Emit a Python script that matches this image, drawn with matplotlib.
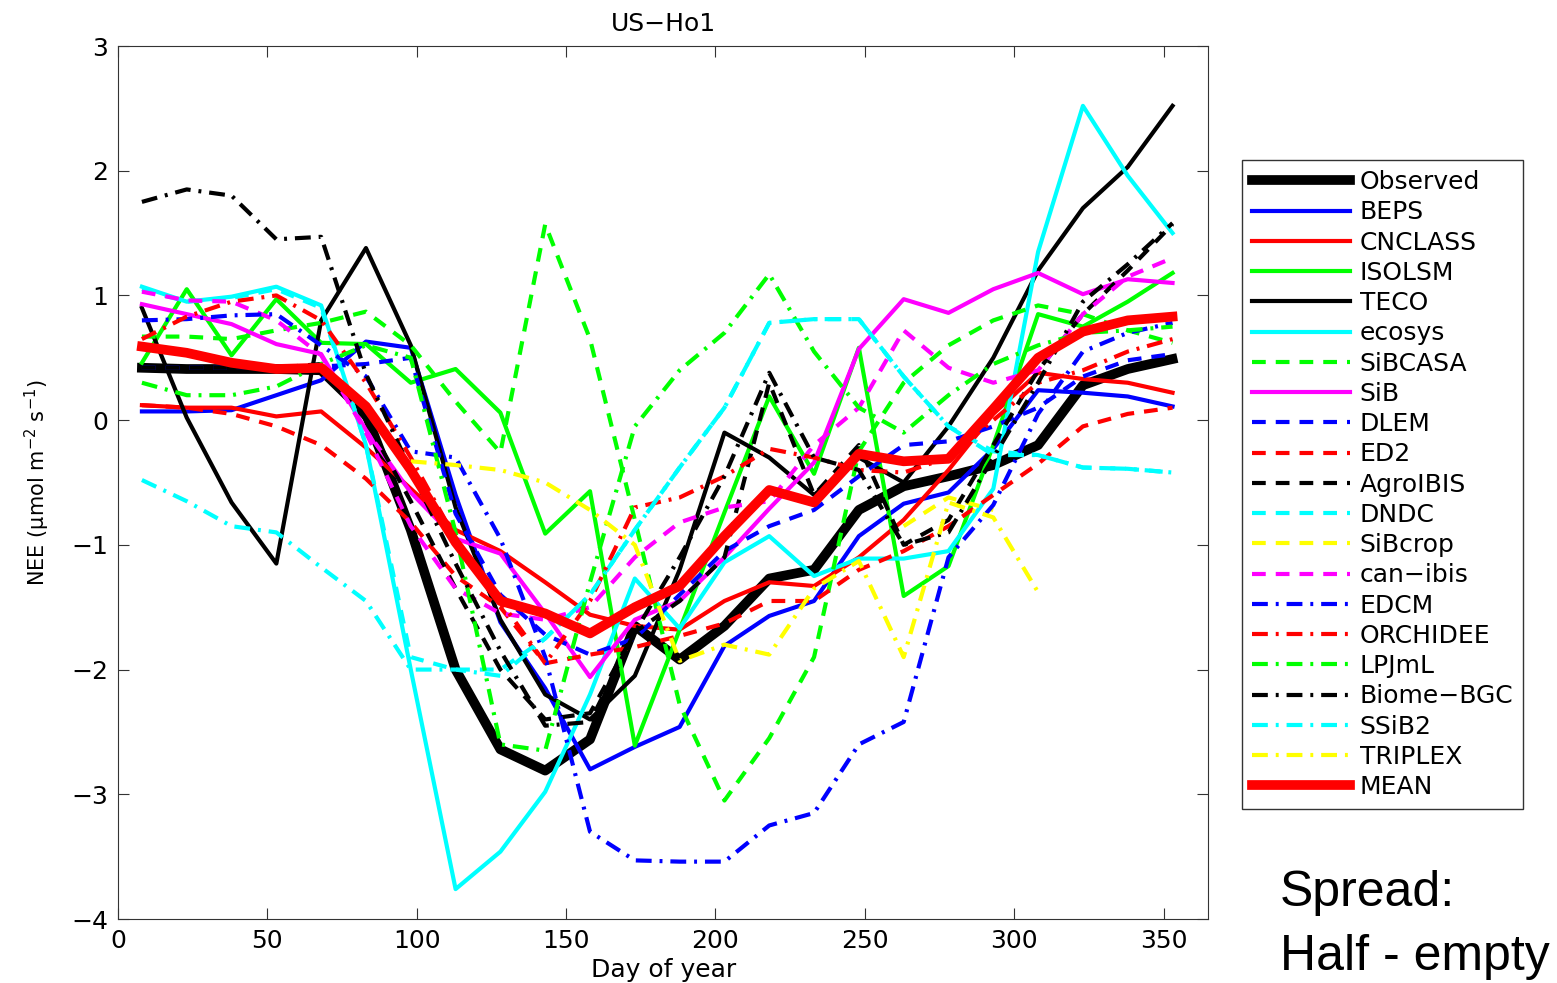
import numpy as np
import matplotlib
matplotlib.use("Agg")
import matplotlib.pyplot as plt

#==[0] Data: NEE per half-month
nan = np.nan
days = [8, 23, 38, 53, 68, 83, 98, 113, 128, 143, 158, 173,
        188, 203, 218, 233, 248, 263, 278, 293, 308, 323, 338, 353]

observed = [0.42, 0.41, 0.41, 0.41, 0.40, 0.05, -0.88, -2.0, -2.64, -2.81, -2.56, -1.65,
            -1.92, -1.65, -1.27, -1.2, -0.72, -0.53, -0.45, -0.36, -0.2, 0.28, 0.41, 0.49]
beps = [0.07, 0.07, 0.08, 0.2, 0.32, 0.63, 0.58, -0.6, -1.62, -2.15, -2.8, -2.62,
        -2.46, -1.81, -1.57, -1.45, -0.93, -0.67, -0.58, -0.23, 0.24, 0.22, 0.19, 0.11]
cnclass = [0.12, 0.1, 0.1, 0.03, 0.07, -0.22, -0.55, -0.88, -1.05, -1.3, -1.56, -1.65,
           -1.68, -1.45, -1.3, -1.33, -1.1, -0.8, -0.4, 0.05, 0.38, 0.33, 0.3, 0.22]
isolsm = [0.46, 1.05, 0.52, 0.97, 0.62, 0.61, 0.3, 0.41, 0.06, -0.91, -0.57, -2.61,
          -1.68, -0.74, 0.19, -0.43, 0.58, -1.41, -1.17, -0.2, 0.85, 0.75, 0.95, 1.18]
teco = [0.9, 0.02, -0.66, -1.15, 0.8, 1.38, 0.6, -0.7, -1.6, -2.2, -2.4, -2.05,
        -1.2, -0.1, -0.3, -0.6, -0.3, -0.5, -0.05, 0.5, 1.2, 1.7, 2.03, 2.52]
ecosys = [1.07, 0.95, 0.99, 1.07, 0.92, -0.2, -2.0, -3.76, -3.46, -2.98, -2.2, -1.27,
          -1.67, -1.14, -0.93, -1.25, -1.11, -1.11, -1.05, -0.55, 1.35, 2.52, 1.96, 1.5]
sibcasa = [0.67, 0.67, 0.65, 0.72, 0.78, 0.87, 0.6, 0.15, -0.26, 1.57, 0.65, -0.8,
           -2.28, -3.05, -2.55, -1.9, -0.25, 0.3, 0.6, 0.8, 0.92, 0.85, 0.72, 0.62]
sib = [0.93, 0.85, 0.77, 0.61, 0.53, -0.08, -0.58, -0.95, -1.07, -1.55, -2.06, -1.6,
       -1.45, -1.1, -0.71, -0.34, 0.57, 0.97, 0.86, 1.05, 1.18, 1.01, 1.13, 1.1]
dlem = [0.42, 0.42, 0.42, 0.42, 0.43, 0.45, 0.5, -0.75, -1.4, -1.72, -1.88, -1.75,
        -1.4, -1.05, -0.85, -0.72, -0.45, -0.2, -0.17, -0.05, 0.1, 0.35, 0.48, 0.53]
ed2 = [0.12, 0.1, 0.05, -0.05, -0.2, -0.47, -0.82, -1.25, -1.5, -1.95, -1.88, -1.82,
       -1.73, -1.63, -1.45, -1.45, -1.2, -1.05, -0.85, -0.6, -0.35, -0.05, 0.05, 0.1]
agroibis = [0.42, 0.42, 0.42, 0.42, 0.45, 0.0, -0.65, -1.35, -2.0, -2.4, -2.35, -1.7,
            -1.45, -1.1, 0.3, -0.6, -0.2, -1.0, -0.8, -0.2, 0.4, 0.85, 1.2, 1.57]
dndc = [1.05, 0.95, 0.98, 1.05, 0.9, -0.2, -1.9, -2.0, -2.0, -1.75, -1.4, -0.88,
        -0.38, 0.1, 0.78, 0.81, 0.81, 0.35, -0.05, -0.25, -0.28, -0.38, -0.39, -0.42]
sibcrop = [nan, nan, nan, nan, nan, nan, nan, nan, nan, nan, nan, nan,
           nan, nan, nan, nan, nan, -0.85, -0.62, -0.72, nan, nan, nan, nan]
canibis = [1.03, 0.96, 0.95, 0.8, 0.52, -0.1, -0.85, -1.35, -1.55, -1.6, -1.5, -1.1,
           -0.82, -0.7, -0.65, -0.2, 0.1, 0.72, 0.42, 0.3, 0.4, 0.85, 1.15, 1.3]
edcm = [0.8, 0.81, 0.84, 0.85, 0.6, 0.35, -0.25, -0.3, -0.95, -1.9, -3.3, -3.53,
        -3.54, -3.54, -3.25, -3.15, -2.6, -2.42, -1.1, -0.68, 0.05, 0.55, 0.7, 0.78]
orchidee = [0.65, 0.83, 0.95, 1.0, 0.8, 0.3, -0.3, -0.95, -1.45, -1.95, -1.45, -0.7,
            -0.62, -0.45, -0.23, -0.3, -0.4, -0.42, -0.3, 0.0, 0.3, 0.4, 0.55, 0.65]
lpjml = [0.3, 0.2, 0.2, 0.27, 0.45, 0.6, 0.5, -0.9, -2.6, -2.65, -1.3, -0.05,
         0.4, 0.7, 1.17, 0.55, 0.1, -0.1, 0.2, 0.45, 0.6, 0.7, 0.72, 0.75]
biomebgc = [1.75, 1.85, 1.8, 1.45, 1.47, 0.37, -0.4, -1.15, -1.85, -2.45, -2.42, -1.7,
            -1.1, -0.45, 0.38, -0.3, -0.4, -1.0, -0.9, -0.3, 0.3, 0.95, 1.25, 1.58]
ssib2 = [-0.48, -0.65, -0.85, -0.9, -1.18, -1.45, -2.0, -2.0, -2.05, -1.75, -1.4, -0.88,
         -0.38, 0.1, 0.78, 0.81, 0.81, 0.35, -0.05, -0.28, -0.28, -0.38, -0.39, -0.42]
triplex = [nan, nan, nan, nan, nan, nan, -0.33, -0.36, -0.4, -0.5, -0.72, -1.0,
           -1.93, -1.8, -1.88, -1.35, -1.13, -1.9, -0.66, -0.78, -1.38, nan, nan, nan]
mean = [0.59, 0.54, 0.46, 0.41, 0.42, 0.11, -0.4, -0.98, -1.45, -1.55, -1.71, -1.5,
        -1.33, -0.93, -0.56, -0.66, -0.27, -0.33, -0.31, 0.09, 0.5, 0.71, 0.8, 0.83]

#==[1] Styles, same order as the legend (MATLAB pure colours)
K, B, R, G, C, M, Y = "#000000", "#0000ff", "#ff0000", "#00ff00", "#00ffff", "#ff00ff", "#ffff00"
dash = (3.3, 2.4)
dashdot = (3.8, 1.9, 0.7, 1.9)
series = [
    ("Observed", observed, K, 7, None),
    ("BEPS", beps, B, 3, None),
    ("CNCLASS", cnclass, R, 3, None),
    ("ISOLSM", isolsm, G, 3, None),
    ("TECO", teco, K, 3, None),
    ("ecosys", ecosys, C, 3, None),
    ("SiBCASA", sibcasa, G, 3, dash),
    ("SiB", sib, M, 3, None),
    ("DLEM", dlem, B, 3, dash),
    ("ED2", ed2, R, 3, dash),
    ("AgroIBIS", agroibis, K, 3, dash),
    ("DNDC", dndc, C, 3, dash),
    ("SiBcrop", sibcrop, Y, 3, dash),
    ("can\u2212ibis", canibis, M, 3, dash),
    ("EDCM", edcm, B, 3, dashdot),
    ("ORCHIDEE", orchidee, R, 3, dashdot),
    ("LPJmL", lpjml, G, 3, dashdot),
    ("Biome\u2212BGC", biomebgc, K, 3, dashdot),
    ("SSiB2", ssib2, C, 3, dashdot),
    ("TRIPLEX", triplex, Y, 3, dashdot),
    ("MEAN", mean, R, 7, None),
]

#==[2] Plot
plt.rcParams["font.family"] = ["DejaVu Sans"]
fig = plt.figure(figsize=(15.57, 9.83), dpi=100)
ax = fig.add_axes([0.0758, 0.0651, 0.7003, 0.8881])

for name, vals, col, lw, dsh in series:
    line, = ax.plot(days, vals, color=col, lw=lw, label=name)
    if dsh is not None:
        line.set_dashes(dsh)

ax.set_xlim(0, 365)
ax.set_ylim(-4, 3)
ax.set_xticks(np.arange(0, 351, 50))
ax.set_yticks(np.arange(-4, 4, 1))
ax.tick_params(direction="in", top=True, right=True, length=8, labelsize=18,
               color="0.2", pad=7)
for sp in ax.spines.values():
    sp.set_color("0.2")
ax.set_title("US\u2212Ho1", fontsize=18, pad=11)
ax.set_xlabel("Day of year", fontsize=18, labelpad=4)
ax.set_ylabel("NEE (\u03bcmol m$^{-2}$ s$^{-1}$)", fontsize=15)
ax.yaxis.label.set_va("center")
ax.yaxis.set_label_coords(-0.074, 0.5)

leg = ax.legend(loc="upper left", bbox_to_anchor=(0.7977, 0.8372),
                bbox_transform=fig.transFigure, borderaxespad=0, fontsize=18,
                handlelength=3.9, labelspacing=0.25, handletextpad=0.4,
                borderpad=0.4, fancybox=False, framealpha=1, edgecolor="0.2")
leg.get_frame().set_linewidth(1.0)

fig.text(0.822, 0.092, "Spread:", fontsize=36, va="center", family="Liberation Sans")
fig.text(0.822, 0.026, "Half - empty", fontsize=36, va="center", family="Liberation Sans")

fig.savefig("out.png", dpi=100)
